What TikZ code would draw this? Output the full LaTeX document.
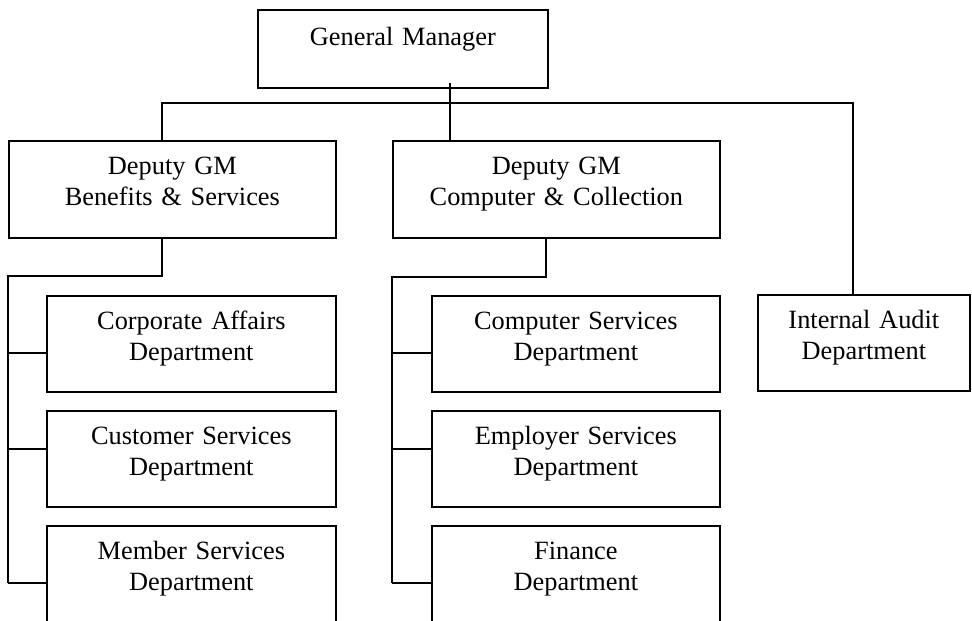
\documentclass[tikz,border=0pt]{standalone}
\usepackage{fontspec}
\setmainfont{Liberation Serif}
\usetikzlibrary{calc}

\tikzset{
  post/.style={draw, line width=1pt, inner sep=0pt, anchor=north west,
    align=center, text width=#1, text height=0.68cm, text depth=1.24cm,
    font=\fontsize{15}{17.6}\selectfont},
  link/.style={line width=1pt},
}

\begin{document}
\begin{tikzpicture}[x=0.02cm, y=-0.02cm]

  \useasboundingbox (0,0) rectangle (972,620);

  % Levels
  \def \yBus   {103}
  \def \yRow   {295}
  \def \rowGap {115}

  % Top box
  \node[post=5.8cm, text height=0.72cm, text depth=0.84cm] (gm) at (257, 9)
  {General Manager};

  % Deputies
  \node[post=6.54cm, text height=0.68cm, text depth=1.26cm] (dgmBen) at (8, 140)
  {Deputy GM\\Benefits \& Services};
  \node[post=6.54cm, text height=0.68cm, text depth=1.26cm] (dgmCom) at (392, 140)
  {Deputy GM\\Computer \& Collection};

  % First column of departments
  \node[post=5.78cm] (corp) at (46, \yRow) {Corporate Affairs\\Department};
  \node[post=5.78cm] (cust) at (46, \yRow + \rowGap) {Customer Services\\Department};
  \node[post=5.78cm] (memb) at (46, \yRow + 2*\rowGap) {Member Services\\Department};

  % Second column of departments
  \node[post=5.76cm] (comp) at (431, \yRow) {Computer Services\\Department};
  \node[post=5.76cm] (empl) at (431, \yRow + \rowGap) {Employer Services\\Department};
  \node[post=5.76cm] (fin)  at (431, \yRow + 2*\rowGap) {Finance\\Department};

  % Audit
  \node[post=4.24cm] (audit) at (757, 294) {Internal Audit\\Department};

  % LINES
  \coordinate (gmDrop) at (450, 83);
  \coordinate (busL) at (162, \yBus);
  \coordinate (busR) at (853, \yBus);

  \draw[link] (gmDrop) -- (gmDrop |- dgmCom.north);
  \draw[link] (busL |- dgmBen.north) -- (busL) -- (busR) -- (busR |- audit.north);

  % Left spine
  \coordinate (dropBen) at (162, 237);
  \coordinate (spineBen) at (8, 276);
  \draw[link] (dropBen) |- (spineBen) -- ($(spineBen |- memb.west) + (0, 9)$);
  \draw[link] ($(spineBen |- corp.west) + (0, 9)$) -- ($(corp.west) + (0, 9)$);
  \draw[link] ($(spineBen |- cust.west) + (0, -10)$) -- ($(cust.west) + (0, -10)$);
  \draw[link] ($(spineBen |- memb.west) + (0, 9)$) -- ($(memb.west) + (0, 9)$);

  % Right spine
  \coordinate (dropCom) at (546, 237);
  \coordinate (spineCom) at (392, 277);
  \draw[link] (dropCom) |- (spineCom) -- ($(spineCom |- fin.west) + (0, 9)$);
  \draw[link] ($(spineCom |- comp.west) + (0, 9)$) -- ($(comp.west) + (0, 9)$);
  \draw[link] ($(spineCom |- empl.west) + (0, -10)$) -- ($(empl.west) + (0, -10)$);
  \draw[link] ($(spineCom |- fin.west) + (0, 9)$) -- ($(fin.west) + (0, 9)$);

\end{tikzpicture}
\end{document}
